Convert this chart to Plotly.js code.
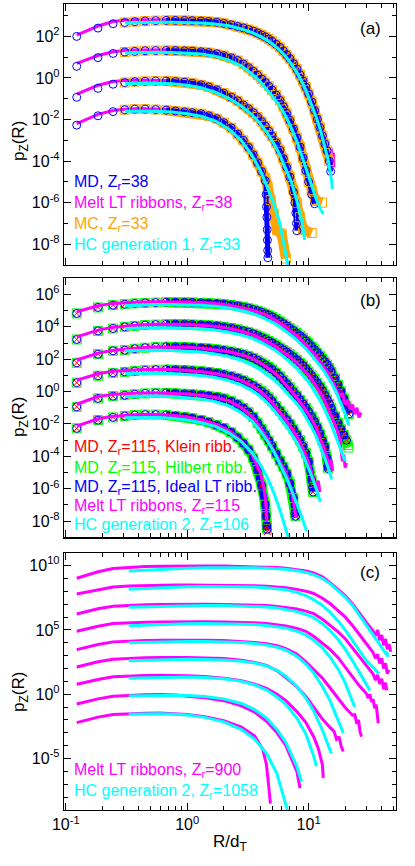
<!DOCTYPE html>
<html>
<head>
<meta charset="utf-8">
<script src="https://cdn.plot.ly/plotly-3.0.1.min.js"></script>
<style>html,body{margin:0;padding:0;background:#fff;}#chart{width:415px;height:866px;}</style>
</head>
<body>
<div id="chart"></div>
<script>
// R/d_T grids (bin centres) shared by the curves of a panel
const gridMarkers = [0.123, 0.184, 0.245, 0.306, 0.37, 0.45, 0.55, 0.67, 0.8, 0.95, 1.1, 1.3, 1.5, 1.75, 2.0, 2.3, 2.6, 2.9, 3.2, 3.5, 3.8, 4.1, 4.4, 4.7, 5.0, 5.4, 5.8, 6.2, 6.6, 7.0, 7.5, 8.0, 8.5, 9.0, 9.5, 10, 10.6, 11.2, 11.8, 12.4, 13, 13.6, 14.2, 14.8, 15.4, 16.5, 17.5, 18.5, 19.5, 20.5, 21.5];
const gridLines = [0.123, 0.184, 0.245, 0.306, 0.4, 0.55, 0.75, 1.0, 1.3, 1.7, 2.2, 2.8, 3.4, 4.0, 4.6, 5.2, 5.8, 6.5, 7.2, 8.0, 8.8, 9.6, 10.5, 11.5, 12.5, 13.5, 14.5, 15.5, 17, 18.5, 20, 21.5, 23];
const gridC = [0.123, 0.184, 0.245, 0.33, 0.45, 0.6, 0.8, 1.0, 1.4, 2.0, 2.8, 3.6, 4.5, 5.5, 6.5, 8.0, 9.5, 11, 13, 15, 17.5, 20, 23, 26, 30, 34, 38, 43, 48];

// values are log10 p_Z(R)

// panel (a): MD, Zr=38 (circles)
const aMD1 = [2.0, 2.4, 2.61, 2.67, 2.71, 2.74, 2.76, 2.77, 2.77, 2.77, 2.76, 2.74, 2.72, 2.68, 2.63, 2.56, 2.48, 2.41, 2.33, 2.25, 2.16, 2.07, 1.98, 1.88, 1.77, 1.62, 1.47, 1.3, 1.12, 0.93, 0.69, 0.43, 0.16, -0.14, -0.44, -0.76, -1.15, -1.56, -1.98, -2.38, -2.78, -3.17, -3.5, -4.0];
const aMD1TailR = [15.2], aMD1TailV = [-4.5];
const aMD2 = [0.56, 0.98, 1.18, 1.25, 1.28, 1.31, 1.32, 1.32, 1.32, 1.31, 1.29, 1.26, 1.22, 1.16, 1.08, 0.97, 0.84, 0.67, 0.5, 0.32, 0.14, -0.05, -0.22, -0.4, -0.58, -0.82, -1.08, -1.38, -1.7, -2.04, -2.45, -2.88, -3.32, -3.85, -4.45, -5.0, -5.6, -6.05];
const aMD3 = [-0.93, -0.5, -0.3, -0.22, -0.18, -0.16, -0.15, -0.15, -0.17, -0.2, -0.25, -0.33, -0.43, -0.57, -0.73, -0.92, -1.1, -1.3, -1.48, -1.67, -1.88, -2.1, -2.32, -2.56, -2.8, -3.12, -3.48, -3.88, -4.3, -4.76];
const aMD3TailR = [7.5, 7.7, 7.85, 7.95, 8.0], aMD3TailV = [-5.5, -6.0, -6.5, -7.0, -7.35];
const aMD4 = [-2.27, -1.82, -1.62, -1.53, -1.5, -1.5, -1.52, -1.55, -1.59, -1.63, -1.67, -1.72, -1.82, -1.96, -2.15, -2.4, -2.7, -3.0, -3.34, -3.7, -4.08, -4.5, -4.95];
const aMD4TailR = [4.47, 4.5, 4.53, 4.56, 4.58, 4.6, 4.62], aMD4TailV = [-5.6, -6.2, -6.7, -7.3, -7.8, -8.3, -8.65];

// panel (a): MC, Zr=33 (squares) - same bins as MD from R=0.306, own tails
const aMC2TailR = [10.6, 11.3, 12.9], aMC2TailV = [-5.4, -5.9, -6.0];
const aMC3TailR = [7.5, 8.0, 8.5, 9.0, 10.6], aMC3TailV = [-5.4, -6.0, -6.7, -7.3, -7.46];
const aMC4TailR = [4.4, 4.6, 4.87, 5.17, 5.5, 6.0, 6.5], aMC4TailV = [-4.8, -5.24, -5.88, -6.52, -7.33, -7.49, -8.69];

// panel (a): melt LT ribbons, Zr=38 (magenta)
const aLT1 = [2.06, 2.5, 2.72, 2.78, 2.8, 2.81, 2.81, 2.8, 2.77, 2.72, 2.62, 2.47, 2.3, 2.12, 1.93, 1.72, 1.49, 1.18, 0.85, 0.45, 0.0, -0.5, -1.1, -1.78, -2.45, -3.1, -3.55];
const aLT1TailR = [15.0, 15.4, 15.7, 16.0, 16.2], aLT1TailV = [-4.0, -3.4, -4.2, -3.6, -4.3];
const aLT2 = [0.7, 1.08, 1.26, 1.32, 1.35, 1.36, 1.36, 1.34, 1.29, 1.19, 1.01, 0.7, 0.36, 0.0, -0.34, -0.7, -1.08, -1.62, -2.2, -2.88, -3.62, -4.55, -5.5];
const aLT2TailR = [11.0], aLT2TailV = [-5.9];
const aLT3 = [-0.78, -0.35, -0.17, -0.12, -0.1, -0.1, -0.13, -0.2, -0.32, -0.55, -0.86, -1.22, -1.6, -2.02, -2.48, -2.95, -3.45, -4.1, -4.95];
const aLT3TailR = [7.6, 7.9, 8.0], aLT3TailV = [-5.6, -6.3, -6.9];
const aLT4 = [-2.2, -1.75, -1.57, -1.5, -1.47, -1.48, -1.52, -1.6, -1.7, -1.92, -2.3, -2.88, -3.55, -4.35];
const aLT4TailR = [4.3, 4.45, 4.52, 4.56, 4.58], aLT4TailV = [-4.8, -5.6, -6.4, -7.0, -7.7];

// panel (a): HC generation 1, Zr=33 (cyan), from R=0.306
const aHC1 = [2.64, 2.67, 2.68, 2.68, 2.67, 2.65, 2.6, 2.51, 2.36, 2.19, 2.0, 1.8, 1.57, 1.33, 1.02, 0.68, 0.27, -0.17, -0.65, -1.2, -1.85, -2.5, -3.2, -3.95, -5.0];
const aHC1TailR = [15.7], aHC1TailV = [-5.35];
const aHC2 = [1.2, 1.23, 1.24, 1.23, 1.2, 1.15, 1.05, 0.86, 0.57, 0.2, -0.18, -0.58, -0.98, -1.35, -1.85, -2.4, -3.05, -3.75, -4.45, -5.15, -5.8, -6.3];
const aHC2TailR = [13.2], aHC2TailV = [-6.55];
const aHC3 = [-0.26, -0.24, -0.25, -0.28, -0.35, -0.47, -0.68, -0.98, -1.36, -1.76, -2.2, -2.68, -3.18, -3.7, -4.35, -5.0, -5.9, -6.9];
const aHC3TailR = [9.3], aHC3TailV = [-7.8];
const aHC4 = [-1.6, -1.59, -1.6, -1.64, -1.72, -1.84, -2.06, -2.45, -3.02, -3.7, -4.45, -5.3, -6.1, -7.0, -8.4];
const aHC4TailR = [6.8], aHC4TailV = [-9.1];

// panel (b): MD, Zr=115 (Klein / Hilbert / ideal LT ribbons overlap)
const bMD1 = [4.83, 5.2, 5.34, 5.4, 5.45, 5.48, 5.5, 5.52, 5.52, 5.52, 5.51, 5.49, 5.47, 5.44, 5.4, 5.35, 5.29, 5.22, 5.15, 5.07, 4.99, 4.9, 4.81, 4.72, 4.62, 4.48, 4.34, 4.2, 4.06, 3.92, 3.78, 3.62, 3.46, 3.3, 3.14, 2.98, 2.79, 2.6, 2.4, 2.22, 2.02, 1.85, 1.67, 1.45, 1.22, 0.82, 0.42, 0.02, -0.43, -0.88, -1.38];
const bMD2 = [3.22, 3.75, 3.9, 4.0, 4.06, 4.11, 4.14, 4.16, 4.17, 4.17, 4.15, 4.13, 4.1, 4.06, 4.0, 3.93, 3.85, 3.76, 3.67, 3.57, 3.46, 3.35, 3.24, 3.13, 3.02, 2.87, 2.72, 2.57, 2.45, 2.31, 2.15, 1.97, 1.79, 1.61, 1.42, 1.23, 1.0, 0.77, 0.54, 0.3, 0.05, -0.21, -0.48, -0.75, -1.03, -1.53, -1.95, -2.33, -2.68, -3.0];
const bHilbert2TailR = [21.0, 21.3], bHilbert2TailV = [-3.3, -3.45];
const bMD3 = [1.78, 2.31, 2.52, 2.56, 2.65, 2.71, 2.75, 2.77, 2.77, 2.76, 2.73, 2.7, 2.66, 2.61, 2.55, 2.48, 2.4, 2.3, 2.19, 2.07, 1.94, 1.8, 1.66, 1.52, 1.37, 1.17, 0.95, 0.71, 0.49, 0.27, 0.01, -0.25, -0.51, -0.76, -1.0, -1.23, -1.53, -1.86, -2.21, -2.61, -3.03, -3.41, -4.13];
const bMD3TailR = [14.4, 14.5], bMD3TailV = [-4.6, -4.75];
const bMD4 = [0.55, 0.98, 1.16, 1.22, 1.27, 1.32, 1.35, 1.36, 1.35, 1.33, 1.3, 1.26, 1.21, 1.14, 1.06, 0.95, 0.83, 0.69, 0.54, 0.38, 0.21, 0.03, -0.16, -0.37, -0.59, -0.9, -1.18, -1.46, -1.73, -2.0, -2.33, -2.66, -3.0, -3.38, -3.8, -4.33, -5.46];
const bMD4TailR = [10.8, 10.9], bMD4TailV = [-5.9, -6.2];
const bMD5 = [-0.94, -0.42, -0.28, -0.22, -0.16, -0.11, -0.08, -0.08, -0.1, -0.13, -0.16, -0.2, -0.26, -0.33, -0.43, -0.59, -0.79, -1.02, -1.27, -1.57, -1.93, -2.29, -2.65, -3.02, -3.37, -3.84, -4.27, -4.64, -5.07, -5.67, -6.57];
const bMD5TailR = [7.7, 7.8], bMD5TailV = [-7.52, -7.7];
const bMD6 = [-2.27, -1.76, -1.59, -1.51, -1.45, -1.42, -1.42, -1.45, -1.5, -1.56, -1.64, -1.76, -1.89, -2.06, -2.25, -2.51, -2.84, -3.19, -3.59, -4.11, -4.84, -5.79, -6.99];
const bMD6TailR = [4.47, 4.52, 4.55], bMD6TailV = [-7.7, -8.3, -8.5];
const bKlein6TailR = [4.57], bKlein6TailV = [-8.65];

// panel (b): melt LT ribbons, Zr=115 (magenta)
const bLT1 = [4.93, 5.3, 5.45, 5.5, 5.53, 5.55, 5.55, 5.53, 5.5, 5.45, 5.34, 5.2, 5.05, 4.87, 4.68, 4.46, 4.24, 3.98, 3.72, 3.45, 3.17, 2.88, 2.56, 2.2, 1.85, 1.5, 1.13, 0.75, 0.15];
const bLT1TailR = [18, 19, 20, 21, 22, 23, 24, 25, 26, 27], bLT1TailV = [-0.3, -0.1, -0.8, -0.5, -1.1, -0.8, -1.4, -1.0, -1.6, -1.3];
const bLT2 = [3.38, 3.8, 3.97, 4.05, 4.12, 4.16, 4.17, 4.14, 4.1, 4.03, 3.9, 3.73, 3.53, 3.3, 3.07, 2.84, 2.6, 2.34, 2.08, 1.78, 1.47, 1.15, 0.8, 0.38, -0.08, -0.55, -1.05, -1.55, -2.3];
const bLT2TailR = [18, 18.5, 19, 19.5, 20, 20.5], bLT2TailV = [-2.9, -3.6, -4.3, -3.9, -4.7, -4.4];
const bLT3 = [1.95, 2.38, 2.56, 2.63, 2.7, 2.75, 2.76, 2.74, 2.68, 2.59, 2.46, 2.28, 2.05, 1.78, 1.49, 1.19, 0.86, 0.44, 0.04, -0.38, -0.8, -1.2, -1.65, -2.22, -2.88, -3.6];
const bLT3TailR = [14.2, 14.8, 15.3, 15.8], bLT3TailV = [-4.1, -4.7, -4.2, -4.9];
const bLT4 = [0.71, 1.1, 1.26, 1.32, 1.35, 1.37, 1.36, 1.3, 1.23, 1.11, 0.93, 0.68, 0.37, 0.02, -0.38, -0.83, -1.27, -1.76, -2.24, -2.78, -3.38, -4.05, -4.9];
const bLT4TailR = [11.0, 11.5, 12.0, 12.4], bLT4TailV = [-5.4, -5.9, -5.5, -6.2];
const bLT5 = [-0.78, -0.3, -0.17, -0.12, -0.09, -0.08, -0.1, -0.15, -0.22, -0.36, -0.57, -1.0, -1.52, -2.22, -2.95, -3.65, -4.32, -5.0, -6.05];
const bLT5TailR = [7.6, 7.9], bLT5TailV = [-7.0, -7.8];
const bLT6 = [-2.13, -1.68, -1.52, -1.45, -1.41, -1.41, -1.46, -1.56, -1.74, -2.0, -2.4, -3.05, -3.85];
const bLT6TailR = [4.0, 4.3, 4.45, 4.52], bLT6TailV = [-5.0, -6.0, -7.0, -8.0];

// panel (b): HC generation 2, Zr=106 (cyan), from R=0.306
const bHC1 = [5.3, 5.35, 5.38, 5.38, 5.36, 5.33, 5.27, 5.16, 5.01, 4.84, 4.65, 4.45, 4.23, 4.0, 3.74, 3.47, 3.18, 2.9, 2.6, 2.27, 1.92, 1.57, 1.22, 0.87, 0.5, -0.1, -0.7, -1.35, -2.1];
const bHC2 = [3.9, 3.93, 3.95, 3.94, 3.92, 3.88, 3.8, 3.67, 3.5, 3.3, 3.08, 2.85, 2.6, 2.35, 2.05, 1.74, 1.42, 1.1, 0.75, 0.35, -0.1, -0.58, -1.08, -1.6, -2.1, -2.9, -3.6, -4.3];
const bHC3 = [2.52, 2.55, 2.56, 2.54, 2.5, 2.44, 2.33, 2.16, 1.93, 1.65, 1.35, 1.04, 0.72, 0.38, 0.0, -0.38, -0.75, -1.15, -1.6, -2.15, -2.75, -3.4, -4.05, -4.7, -5.4];
const bHC4 = [1.12, 1.14, 1.15, 1.12, 1.07, 1.0, 0.88, 0.68, 0.4, 0.08, -0.3, -0.72, -1.16, -1.6, -2.1, -2.6, -3.15, -3.75, -4.4, -5.15, -5.95, -6.8];
const bHC5 = [-0.3, -0.27, -0.27, -0.3, -0.36, -0.45, -0.62, -0.88, -1.3, -1.8, -2.42, -3.08, -3.75, -4.45, -5.25, -6.05, -6.9, -7.75, -8.6];
const bHC6 = [-1.62, -1.6, -1.6, -1.65, -1.75, -1.92, -2.15, -2.55, -3.1, -3.75, -4.5, -5.35, -6.3, -7.3, -8.5];
const bHC6TailR = [6.8], bHC6TailV = [-9.0];

// panel (c): melt LT ribbons, Zr=900 (magenta)
const cLT1 = [9.02, 9.52, 9.77, 9.87, 9.92, 9.95, 9.97, 9.97, 9.97, 9.96, 9.94, 9.92, 9.9, 9.85, 9.8, 9.7, 9.58, 9.42, 9.12, 8.67, 8.12, 7.67, 7.02, 6.32, 5.57, 4.92];
const cLT1TailR = [35.5, 37, 38.5, 40, 41.5, 43, 44.5, 46, 47.5], cLT1TailV = [4.55, 5.0, 4.2, 4.6, 3.8, 4.3, 3.5, 3.9, 3.3];
const cLT2 = [7.79, 8.14, 8.34, 8.41, 8.45, 8.47, 8.49, 8.49, 8.49, 8.48, 8.46, 8.44, 8.4, 8.34, 8.27, 8.15, 8.01, 7.83, 7.46, 7.05, 6.52, 6.01, 5.34, 4.67, 3.87, 3.24];
const cLT2TailR = [35.5, 37, 38.5, 40, 41.5, 43, 44.5, 46], cLT2TailV = [2.8, 3.1, 2.4, 2.8, 2.0, 2.4, 1.6, 1.9];
const cLT3 = [6.24, 6.64, 6.84, 6.91, 6.95, 6.97, 6.99, 6.99, 6.99, 6.98, 6.95, 6.93, 6.89, 6.82, 6.75, 6.62, 6.46, 6.27, 5.84, 5.39, 4.84, 4.32, 3.59, 2.89, 2.14, 1.57];
const cLT3TailR = [35.5, 37, 38.5, 40, 41.5, 43, 44], cLT3TailV = [1.1, 1.5, 0.8, 1.2, 0.4, 0.9, 0.3];
const cLT4 = [4.89, 5.29, 5.49, 5.56, 5.6, 5.62, 5.64, 5.64, 5.64, 5.62, 5.59, 5.55, 5.49, 5.4, 5.31, 5.12, 4.89, 4.51, 3.97, 3.49, 2.84, 2.12, 1.34, 0.69, 0.04];
const cLT4TailR = [31, 32, 33, 34, 35, 36, 37, 37.5], cLT4TailV = [-0.3, 0.0, -0.6, -0.4, -1.1, -0.8, -1.7, -2.26];
const cLT5 = [3.47, 3.87, 4.07, 4.14, 4.18, 4.2, 4.22, 4.21, 4.2, 4.17, 4.12, 4.03, 3.92, 3.77, 3.55, 3.12, 2.52, 1.95, 1.25, 0.5, -0.3, -1.03, -1.63];
const cLT5TailR = [24, 25, 25.8, 26.5, 27.3], cLT5TailV = [-1.6, -2.3, -2.0, -2.9, -3.3];
const cLT6 = [2.12, 2.52, 2.72, 2.79, 2.83, 2.85, 2.86, 2.85, 2.82, 2.77, 2.64, 2.47, 2.24, 1.82, 1.3, 0.57, -0.18, -1.03, -1.93, -2.58];
const cLT6TailR = [16.2, 17.0, 17.8, 18.5, 19.3], cLT6TailV = [-2.9, -3.5, -3.3, -4.0, -4.46];
const cLT7 = [0.77, 1.15, 1.35, 1.42, 1.46, 1.48, 1.48, 1.44, 1.38, 1.25, 1.05, 0.78, 0.45, 0.0, -0.5, -1.35, -2.2, -3.3];
const cLT7TailR = [12.0, 12.6, 13.0, 13.2], cLT7TailV = [-4.2, -4.9, -5.5, -6.5];
const cLT8 = [-0.76, -0.36, -0.16, -0.08, -0.04, -0.02, -0.06, -0.15, -0.28, -0.5, -0.9, -1.4, -2.1, -3.0, -4.0, -6.0];
const cLT8TailR = [8.2, 8.4, 8.5], cLT8TailV = [-6.5, -6.9, -7.3];
const cLT9 = [-2.21, -1.78, -1.58, -1.51, -1.47, -1.46, -1.5, -1.58, -1.75, -2.05, -2.55, -3.25];
const cLT9TailR = [4.2, 4.5, 4.65, 4.75, 4.85], cLT9TailV = [-4.3, -5.5, -6.8, -7.6, -8.5];

// panel (c): HC generation 2, Zr=1058 (cyan), from R=0.33
const cHC1 = [9.58, 9.65, 9.72, 9.78, 9.8, 9.84, 9.85, 9.85, 9.83, 9.8, 9.76, 9.71, 9.6, 9.47, 9.3, 9.0, 8.6, 8.05, 7.55, 6.9, 6.2, 5.4, 4.6, 3.95, 3.2];
const cHC1TailR = [44, 45], cHC1TailV = [3.3, 2.9];
const cHC2 = [8.16, 8.22, 8.28, 8.33, 8.36, 8.38, 8.38, 8.36, 8.33, 8.28, 8.21, 8.12, 7.92, 7.66, 7.36, 6.9, 6.38, 5.7, 5.0, 4.2, 3.45, 2.6, 2.1, 1.6];
const cHC3 = [6.76, 6.8, 6.84, 6.87, 6.89, 6.9, 6.89, 6.86, 6.83, 6.78, 6.7, 6.6, 6.42, 6.2, 5.95, 5.48, 4.95, 4.25, 3.5, 2.6, 1.75, 0.8];
const cHC3TailR = [32], cHC3TailV = [0.3];
const cHC4 = [5.33, 5.38, 5.42, 5.46, 5.48, 5.5, 5.49, 5.46, 5.42, 5.35, 5.25, 5.14, 4.9, 4.6, 4.2, 3.6, 2.9, 1.95, 0.9, -0.5];
const cHC4TailR = [24], cHC4TailV = [-1.0];
const cHC5 = [4.0, 4.04, 4.07, 4.09, 4.1, 4.1, 4.07, 4.02, 3.94, 3.82, 3.65, 3.42, 2.95, 2.35, 1.65, 0.6, -0.5, -2.0];
const cHC5TailR = [18.5, 19.3], cHC5TailV = [-2.6, -3.0];
const cHC6 = [2.61, 2.65, 2.68, 2.7, 2.71, 2.7, 2.66, 2.56, 2.42, 2.2, 1.85, 1.4, 0.6, -0.3, -1.3, -2.8, -4.3];
const cHC6TailR = [15.4], cHC6TailV = [-4.6];
const cHC7 = [1.24, 1.28, 1.31, 1.33, 1.33, 1.3, 1.2, 1.0, 0.72, 0.32, -0.22, -0.8, -1.85, -3.1, -4.8];
const cHC7TailR = [11.6], cHC7TailV = [-5.6];
const cHC8 = [-0.13, -0.1, -0.08, -0.08, -0.1, -0.18, -0.36, -0.72, -1.2, -1.85, -2.75, -3.75, -5.6];
const cHC8TailR = [8.75], cHC8TailV = [-6.8];
const cHC9 = [-1.55, -1.52, -1.52, -1.55, -1.62, -1.8, -2.15, -2.75, -3.5, -4.6, -6.2, -8.6];
const cHC9TailR = [6.7], cHC9TailV = [-9.0];

// axis ticks
const xTickVals = [0.1, 1, 10];
const xTickText = ['10<sup>-1</sup>', '10<sup>0</sup>', '10<sup>1</sup>'];
const xMinorVals = [0.2, 0.3, 0.4, 0.5, 0.6, 0.7, 0.8, 0.9, 2, 3, 4, 5, 6, 7, 8, 9, 20, 30, 40, 50];
const yTickValsAB = [1e-8, 1e-6, 1e-4, 1e-2, 1, 1e2, 1e4, 1e6];
const yTickTextAB = ['10<sup>-8</sup>', '10<sup>-6</sup>', '10<sup>-4</sup>', '10<sup>-2</sup>', '10<sup>0</sup>', '10<sup>2</sup>', '10<sup>4</sup>', '10<sup>6</sup>'];
const yMinorAB = [1e-9, 1e-7, 1e-5, 1e-3, 1e-1, 1e1, 1e3, 1e5, 1e7];
const yTickValsC = [1e-5, 1, 1e5, 1e10];
const yTickTextC = ['10<sup>-5</sup>', '10<sup>0</sup>', '10<sup>5</sup>', '10<sup>10</sup>'];
const yMinorC = [1e-9, 1e-8, 1e-7, 1e-6, 1e-4, 1e-3, 1e-2, 1e-1, 1e1, 1e2, 1e3, 1e4, 1e6, 1e7, 1e8, 1e9, 1e11];

const BLUE = '#0000ff', MAG = '#ff00ff', ORANGE = '#ffa500', CYAN = '#00ffff', RED = '#ff0000', GREEN = '#00ff00';

function curve(grid, first, vals, tailR, tailV) {
  return {
    x: grid.slice(first, first + vals.length).concat(tailR || []),
    y: vals.concat(tailV || []).map(v => Math.pow(10, v))
  };
}
function markers(c, ax, symbol, color, size) {
  return {x: c.x, y: c.y, xaxis: 'x' + ax, yaxis: 'y' + ax, type: 'scatter', mode: 'markers',
    marker: {symbol: symbol, size: size, color: color, line: {color: color, width: 1}},
    hoverinfo: 'skip', showlegend: false};
}
// dense overlapping bins read as a solid band where the markers crowd together
function band(c, ax, color, width, from) {
  return {x: c.x.slice(from), y: c.y.slice(from), xaxis: 'x' + ax, yaxis: 'y' + ax, type: 'scatter', mode: 'lines',
    line: {color: color, width: width}, hoverinfo: 'skip', showlegend: false};
}
function line(c, ax, color) {
  return {x: c.x, y: c.y, xaxis: 'x' + ax, yaxis: 'y' + ax, type: 'scatter', mode: 'lines',
    line: {color: color, width: 3}, hoverinfo: 'skip', showlegend: false};
}

const G = gridMarkers, L = gridLines;
const traces = [];

// ---- panel (a)
const aMDc = [curve(G, 0, aMD1, aMD1TailR, aMD1TailV), curve(G, 0, aMD2), curve(G, 0, aMD3, aMD3TailR, aMD3TailV),
  curve(G, 0, aMD4, aMD4TailR, aMD4TailV)];
const aMCc = [curve(G, 3, aMD1.slice(3)), curve(G, 3, aMD2.slice(3, 36), aMC2TailR, aMC2TailV),
  curve(G, 3, aMD3.slice(3, 30), aMC3TailR, aMC3TailV), curve(G, 3, aMD4.slice(3, 22), aMC4TailR, aMC4TailV)];
const aLTc = [curve(L, 0, aLT1, aLT1TailR, aLT1TailV), curve(L, 0, aLT2, aLT2TailR, aLT2TailV),
  curve(L, 0, aLT3, aLT3TailR, aLT3TailV), curve(L, 0, aLT4, aLT4TailR, aLT4TailV)];
const aHCc = [curve(L, 3, aHC1, aHC1TailR, aHC1TailV), curve(L, 3, aHC2, aHC2TailR, aHC2TailV),
  curve(L, 3, aHC3, aHC3TailR, aHC3TailV), curve(L, 3, aHC4, aHC4TailR, aHC4TailV)];
aLTc.forEach(c => traces.push(line(c, '', MAG)));
aMCc.forEach(c => traces.push(band(c, '', ORANGE, 10, 4)));
aMDc.forEach(c => traces.push(band(c, '', BLUE, 5, 7)));
aMCc.forEach(c => traces.push(markers(c, '', 'square-open', ORANGE, 9)));
aMDc.forEach(c => traces.push(markers(c, '', 'circle-open', BLUE, 8)));
aHCc.forEach(c => traces.push(line(c, '', CYAN)));

// ---- panel (b)
const bBody = [[bMD1], [bMD2], [bMD3, bMD3TailR, bMD3TailV], [bMD4, bMD4TailR, bMD4TailV], [bMD5, bMD5TailR, bMD5TailV], [bMD6, bMD6TailR, bMD6TailV]];
const bGreen = bBody.map((b, i) => i === 1 ? curve(G, 0, b[0], bHilbert2TailR, bHilbert2TailV) : curve(G, 0, b[0], b[1], b[2]));
const bRed = bBody.map((b, i) => i === 5 ? curve(G, 0, b[0], b[1].concat(bKlein6TailR), b[2].concat(bKlein6TailV)) : curve(G, 0, b[0], b[1], b[2]));
const bBlue = bBody.map(b => curve(G, 0, b[0], b[1], b[2]));
const bLTc = [curve(L, 0, bLT1, bLT1TailR, bLT1TailV), curve(L, 0, bLT2, bLT2TailR, bLT2TailV), curve(L, 0, bLT3, bLT3TailR, bLT3TailV),
  curve(L, 0, bLT4, bLT4TailR, bLT4TailV), curve(L, 0, bLT5, bLT5TailR, bLT5TailV), curve(L, 0, bLT6, bLT6TailR, bLT6TailV)];
const bHCc = [curve(L, 3, bHC1), curve(L, 3, bHC2), curve(L, 3, bHC3), curve(L, 3, bHC4), curve(L, 3, bHC5),
  curve(L, 3, bHC6, bHC6TailR, bHC6TailV)];
bGreen.forEach(c => traces.push(band(c, '2', GREEN, 10, 7)));
bBlue.forEach(c => traces.push(band(c, '2', BLUE, 7, 7)));
bGreen.forEach(c => traces.push(markers(c, '2', 'square-open', GREEN, 9)));
bRed.forEach(c => traces.push(markers(c, '2', 'x-thin-open', RED, 7)));
bBlue.forEach(c => traces.push(markers(c, '2', 'circle-open', BLUE, 8)));
bLTc.forEach(c => traces.push(line(c, '2', MAG)));
bHCc.forEach(c => traces.push(line(c, '2', CYAN)));

// ---- panel (c)
[curve(gridC, 0, cLT1, cLT1TailR, cLT1TailV), curve(gridC, 0, cLT2, cLT2TailR, cLT2TailV), curve(gridC, 0, cLT3, cLT3TailR, cLT3TailV),
 curve(gridC, 0, cLT4, cLT4TailR, cLT4TailV), curve(gridC, 0, cLT5, cLT5TailR, cLT5TailV), curve(gridC, 0, cLT6, cLT6TailR, cLT6TailV),
 curve(gridC, 0, cLT7, cLT7TailR, cLT7TailV), curve(gridC, 0, cLT8, cLT8TailR, cLT8TailV), curve(gridC, 0, cLT9, cLT9TailR, cLT9TailV)]
  .forEach(c => traces.push(line(c, '3', MAG)));
[curve(gridC, 3, cHC1, cHC1TailR, cHC1TailV), curve(gridC, 3, cHC2), curve(gridC, 3, cHC3, cHC3TailR, cHC3TailV),
 curve(gridC, 3, cHC4, cHC4TailR, cHC4TailV), curve(gridC, 3, cHC5, cHC5TailR, cHC5TailV), curve(gridC, 3, cHC6, cHC6TailR, cHC6TailV),
 curve(gridC, 3, cHC7, cHC7TailR, cHC7TailV), curve(gridC, 3, cHC8, cHC8TailR, cHC8TailV), curve(gridC, 3, cHC9, cHC9TailR, cHC9TailV)]
  .forEach(c => traces.push(line(c, '3', CYAN)));

const FONT = 'Liberation Sans, Arial, Helvetica, sans-serif';
function xAxis(anchor, labels) {
  return {type: 'log', range: [-1.015, 1.72], anchor: anchor, showline: true, linecolor: '#000', linewidth: 1.2,
    mirror: 'allticks', ticks: 'inside', ticklen: 7, tickcolor: '#000', tickwidth: 1,
    tickmode: 'array', tickvals: xTickVals, ticktext: xTickText, showticklabels: labels,
    tickfont: {family: FONT, size: 16, color: '#000'},
    minor: {tickmode: 'array', tickvals: xMinorVals, ticks: 'inside', ticklen: 4, tickcolor: '#000', tickwidth: 1},
    showgrid: false, zeroline: false};
}
function yAxis(anchor, domain, range, vals, text, minorVals) {
  return {type: 'log', range: range, domain: domain, anchor: anchor, showline: true, linecolor: '#000', linewidth: 1.2,
    mirror: 'allticks', ticks: 'inside', ticklen: 7, tickcolor: '#000', tickwidth: 1,
    tickmode: 'array', tickvals: vals, ticktext: text,
    tickfont: {family: FONT, size: 16, color: '#000'},
    minor: {tickmode: 'array', tickvals: minorVals, ticks: 'inside', ticklen: 4, tickcolor: '#000', tickwidth: 1},
    showgrid: false, zeroline: false};
}

function note(text, x, y, color, size, xanchor, angle) {
  return {text: text, xref: 'paper', yref: 'paper', x: x, y: y, xanchor: xanchor || 'left', yanchor: 'middle',
    showarrow: false, textangle: angle || 0, font: {family: FONT, size: size || 16, color: color || '#000'}};
}
const lx = 0.0256;
const annotations = [
  note('MD, Z<sub>r</sub>=38', lx, 0.7789, BLUE),
  note('Melt LT ribbons, Z<sub>r</sub>=38', lx, 0.7528, MAG),
  note('MC, Z<sub>r</sub>=33', lx, 0.727, ORANGE),
  note('HC generation 1, Z<sub>r</sub>=33', lx, 0.7007, CYAN),
  note('MD, Z<sub>r</sub>=115, Klein ribb.', lx, 0.4495, RED),
  note('MD, Z<sub>r</sub>=115, Hilbert ribb.', lx, 0.4239, GREEN),
  note('MD, Z<sub>r</sub>=115, Ideal LT ribb.', lx, 0.4004, BLUE),
  note('Melt LT ribbons, Z<sub>r</sub>=115', lx, 0.3763, MAG),
  note('HC generation 2, Z<sub>r</sub>=106', lx, 0.3527, CYAN),
  note('Melt LT ribbons, Z<sub>r</sub>=900', lx, 0.0496, MAG),
  note('HC generation 2, Z<sub>r</sub>=1058', lx, 0.0227, CYAN),
  note('(a)', 0.9217, 0.969, '#000', 17, 'center'),
  note('(b)', 0.9217, 0.6319, '#000', 17, 'center'),
  note('(c)', 0.9217, 0.2944, '#000', 17, 'center'),
  note('p<sub>Z</sub>(R)', -0.1325, 0.830, '#000', 17, 'center', -90),
  note('p<sub>Z</sub>(R)', -0.1325, 0.4876, '#000', 17, 'center', -90),
  note('p<sub>Z</sub>(R)', -0.1325, 0.1464, '#000', 17, 'center', -90),
  note('R/d<sub>T</sub>', 0.5, -0.0409, '#000', 17, 'center')
];

const layout = {
  width: 415, height: 866,
  margin: {l: 64, r: 19, t: 4, b: 56},
  paper_bgcolor: '#fff', plot_bgcolor: '#fff',
  font: {family: FONT, size: 16, color: '#000'},
  showlegend: false,
  xaxis: xAxis('y', false),
  xaxis2: xAxis('y2', false),
  xaxis3: xAxis('y3', true),
  yaxis: yAxis('x', [0.6762, 1], [-9, 3.56], yTickValsAB, yTickTextAB, yMinorAB),
  yaxis2: yAxis('x2', [0.3383, 0.6597], [-9, 7], yTickValsAB, yTickTextAB, yMinorAB),
  yaxis3: yAxis('x3', [0, 0.3192], [-9, 11], yTickValsC, yTickTextC, yMinorC),
  annotations: annotations
};

Plotly.newPlot('chart', traces, layout, {staticPlot: true, displayModeBar: false});
</script>
</body>
</html>
